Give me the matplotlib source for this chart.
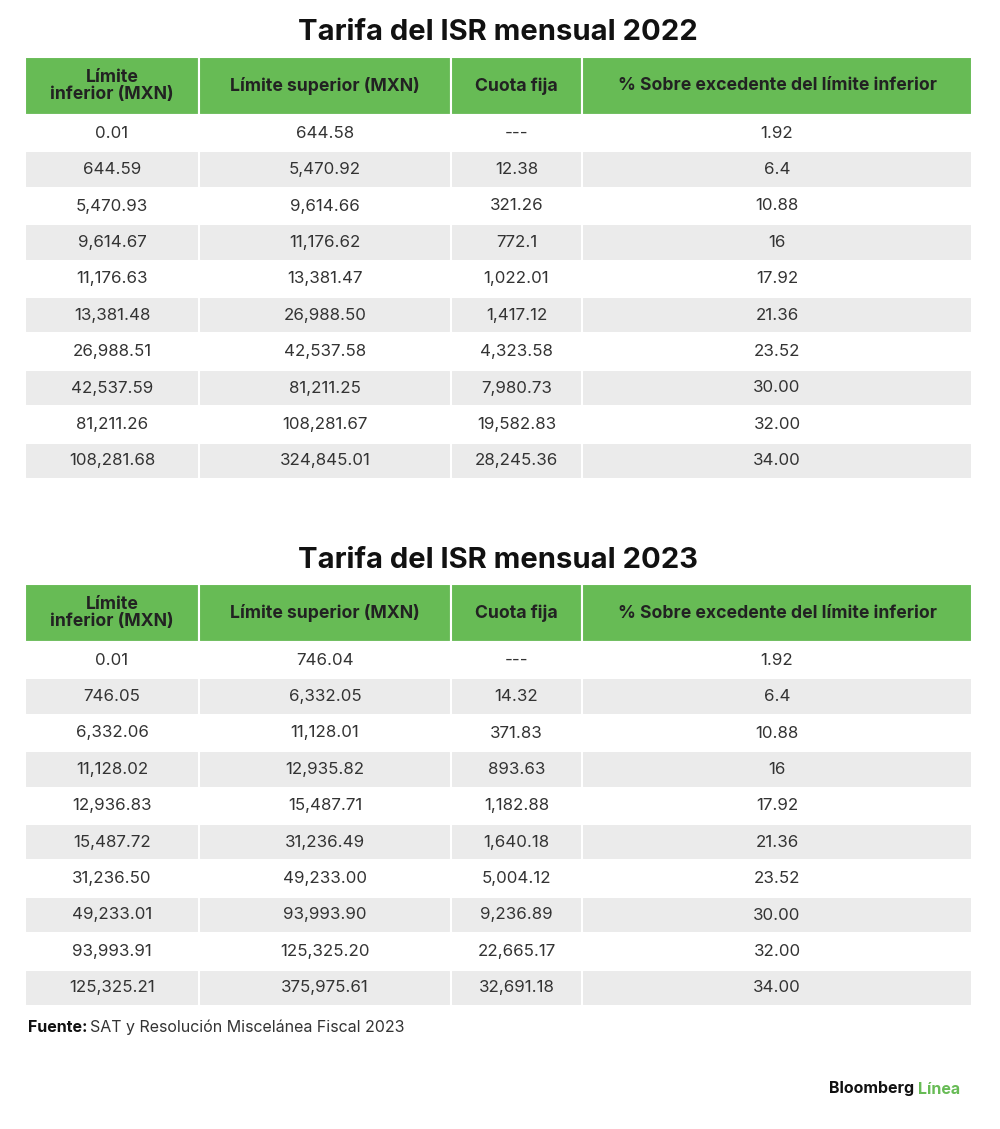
import matplotlib.pyplot as plt
from matplotlib.patches import Rectangle

headers = ["Límite\ninferior (MXN)", "Límite superior (MXN)", "Cuota fija",
           "% Sobre excedente del límite inferior"]

inf_2022 = ["0.01", "644.59", "5,470.93", "9,614.67", "11,176.63", "13,381.48",
            "26,988.51", "42,537.59", "81,211.26", "108,281.68"]
sup_2022 = ["644.58", "5,470.92", "9,614.66", "11,176.62", "13,381.47", "26,988.50",
            "42,537.58", "81,211.25", "108,281.67", "324,845.01"]
cuota_2022 = ["---", "12.38", "321.26", "772.1", "1,022.01", "1,417.12",
              "4,323.58", "7,980.73", "19,582.83", "28,245.36"]
pct_2022 = ["1.92", "6.4", "10.88", "16", "17.92", "21.36", "23.52", "30.00", "32.00", "34.00"]

inf_2023 = ["0.01", "746.05", "6,332.06", "11,128.02", "12,936.83", "15,487.72",
            "31,236.50", "49,233.01", "93,993.91", "125,325.21"]
sup_2023 = ["746.04", "6,332.05", "11,128.01", "12,935.82", "15,487.71", "31,236.49",
            "49,233.00", "93,993.90", "125,325.20", "375,975.61"]
cuota_2023 = ["---", "14.32", "371.83", "893.63", "1,182.88", "1,640.18",
              "5,004.12", "9,236.89", "22,665.17", "32,691.18"]
pct_2023 = ["1.92", "6.4", "10.88", "16", "17.92", "21.36", "23.52", "30.00", "32.00", "34.00"]

GREEN = "#67bb55"
GRAY = "#ebebeb"
col_edges = [25, 199, 451, 582, 972]

plt.rcParams['font.family'] = ['Inter', 'DejaVu Sans']
fig = plt.figure(figsize=(10, 11.29), dpi=100)
ax = fig.add_axes([0, 0, 1, 1])
ax.set_xlim(0, 1000)
ax.set_ylim(1129, 0)
ax.axis("off")


# draws one table given its title position and columns
def draw_table(title, title_y, top, cols):
    ax.text(498, title_y, title, ha="center", va="center", fontsize=21,
            fontweight="bold", color="#111111")
    head_h = 58
    row_h = 36.4
    for j in range(4):
        x0, x1 = col_edges[j], col_edges[j + 1]
        ax.add_patch(Rectangle((x0, top), x1 - x0, head_h, facecolor=GREEN,
                               edgecolor="white", lw=1.5))
        ax.text((x0 + x1) / 2, top + head_h / 2, headers[j], ha="center",
                va="center", fontsize=12.7, fontweight="bold", color="#222222",
                linespacing=1.05)
    for i in range(len(cols[0])):
        y0 = top + head_h + i * row_h
        for j in range(4):
            x0, x1 = col_edges[j], col_edges[j + 1]
            ax.add_patch(Rectangle((x0, y0), x1 - x0, row_h,
                                   facecolor=GRAY if i % 2 else "white",
                                   edgecolor="white", lw=1.5))
            ax.text((x0 + x1) / 2, y0 + row_h / 2, cols[j][i], ha="center",
                    va="center", fontsize=12.2, color="#333333")


draw_table("Tarifa del ISR mensual 2022", 33, 57,
           [inf_2022, sup_2022, cuota_2022, pct_2022])
draw_table("Tarifa del ISR mensual 2023", 560, 584,
           [inf_2023, sup_2023, cuota_2023, pct_2023])

ax.text(28, 1027, "Fuente:", ha="left", va="center", fontsize=11.5,
        fontweight="bold", color="#111111")
ax.text(90, 1027, "SAT y Resolución Miscelánea Fiscal 2023", ha="left",
        va="center", fontsize=11.5, color="#333333")
ax.text(918, 1089, "Bloomberg ", ha="right", va="center", fontsize=11.5,
        fontweight="bold", color="#111111")
ax.text(918, 1089, "Línea", ha="left", va="center", fontsize=11.5,
        fontweight="bold", color=GREEN)

fig.savefig("out.png", dpi=100)
